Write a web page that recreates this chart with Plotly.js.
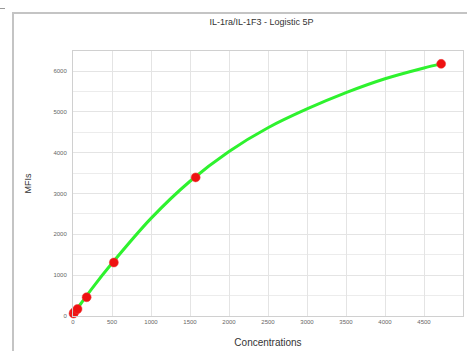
<!DOCTYPE html>
<html>
<head>
<meta charset="utf-8">
<script src="https://cdn.plot.ly/plotly-3.0.1.min.js"></script>
<style>
html,body{margin:0;padding:0;background:#fff;overflow:hidden;}
#chart{position:absolute;left:0;top:0;width:467px;height:351px;}
#frame{position:absolute;left:12px;top:12px;width:460px;height:345px;border-left:2px solid #c4c4c4;border-top:2px solid #c4c4c4;pointer-events:none;}
#dash{position:absolute;left:0;top:8px;width:5px;height:1px;background:#999;}
</style>
</head>
<body>
<div id="chart"></div>
<div id="dash"></div>
<div id="frame"></div>
<script>
// Standards (measured points)
var stdConc = [6.5, 19.4, 58, 175, 524, 1573, 4720];
var stdMFI  = [60, 98, 171, 460, 1310, 3395, 6175];
// Fitted curve
var fitConc = [0, 100, 250, 500, 1000, 1500, 2000, 2500, 3000, 3500, 4000, 4500, 4720];
var fitMFI  = [40, 300, 690, 1290, 2390, 3300, 4030, 4610, 5070, 5470, 5810, 6075, 6175];
var xTicks = [0, 500, 1000, 1500, 2000, 2500, 3000, 3500, 4000, 4500, 5000];
var xTickText = ['0', '500', '1000', '1500', '2000', '2500', '3000', '3500', '4000', '4500', '5000'];
var yTicks = [0, 1000, 2000, 3000, 4000, 5000, 6000];
var yTickText = ['0', '1000', '2000', '3000', '4000', '5000', '6000'];

var traces = [
  {x: fitConc, y: fitMFI, type: 'scatter', mode: 'lines',
   line: {color: '#2ef22e', width: 3, shape: 'spline', smoothing: 0.8}, hoverinfo: 'skip', cliponaxis: false},
  {x: stdConc, y: stdMFI, type: 'scatter', mode: 'markers',
   marker: {color: '#ee1111', size: 9, line: {color: 'rgba(240,60,60,0.5)', width: 1}}, cliponaxis: false}
];
var tickFont = {family: 'Liberation Sans, Arial, sans-serif', size: 6, color: '#666'};
var layout = {
  width: 467, height: 351,
  margin: {l: 73, r: 4, t: 51, b: 35},
  paper_bgcolor: '#fff', plot_bgcolor: '#fff',
  showlegend: false,
  title: {text: 'IL-1ra/IL-1F3 - Logistic 5P', x: 0.56, xanchor: 'center', y: 0.937, yanchor: 'middle',
          font: {family: 'Liberation Sans, Arial, sans-serif', size: 9, color: '#333'}},
  xaxis: {range: [0, 5000], tickvals: xTicks, ticktext: xTickText, tickfont: tickFont,
          showgrid: true, gridcolor: '#e4e4e4', gridwidth: 1, zeroline: false,
          showline: true, linecolor: '#d0d0d0', linewidth: 1, mirror: true, ticks: '', ticklen: 0,
          title: {text: 'Concentrations', standoff: 14, font: {family: 'Liberation Sans, Arial, sans-serif', size: 10, color: '#333'}}},
  yaxis: {range: [0, 6490], tickvals: yTicks, ticktext: yTickText, tickfont: tickFont,
          showgrid: true, gridcolor: '#e4e4e4', gridwidth: 1, zeroline: false,
          minor: {dtick: 500, showgrid: true, gridcolor: '#ececec', ticks: ''},
          showline: true, linecolor: '#d0d0d0', linewidth: 1, mirror: true, ticks: '', ticklen: 0,
          ticklabelstandoff: 4,
          title: {text: 'MFIs', standoff: 20, font: {family: 'Liberation Sans, Arial, sans-serif', size: 9, color: '#333'}}}
};
Plotly.newPlot('chart', traces, layout, {displayModeBar: false, staticPlot: true});
</script>
</body>
</html>
